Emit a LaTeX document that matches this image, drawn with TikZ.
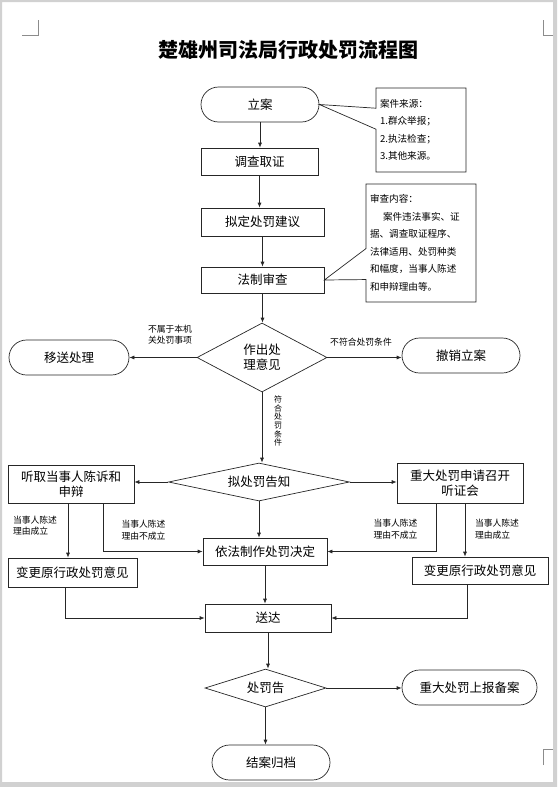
\documentclass[tikz,border=0pt]{standalone}
\usepackage{fontspec}
\setmainfont{Noto Sans CJK SC}
\usetikzlibrary{shapes.geometric, shapes.misc, shapes.callouts, arrows.meta}
\tikzset{
  terminal/.style={rounded rectangle, minimum width=118pt, minimum height=35pt, inner sep=0pt, draw=black!85, line width=0.7pt, font=\fontsize{12.5}{15}\selectfont},
  process/.style={rectangle, minimum width=124pt, minimum height=27pt, inner sep=2pt, align=center, draw=black!85, line width=0.7pt, font=\fontsize{12.5}{15}\selectfont},
  decision/.style={diamond, inner sep=0pt, align=center, draw=black!85, line width=0.7pt, font=\fontsize{12.5}{15}\selectfont},
  note/.style={rectangle callout, align=left, inner xsep=4pt, draw=black!85, line width=0.7pt, font=\fontsize{9.6}{17.5}\selectfont},
  small/.style={inner sep=0pt, align=left, font=\fontsize{8.8}{11.5}\selectfont},
  arrow/.style={line width=0.7pt, draw=black!85, -{Latex[length=5pt,width=4pt]}}
}

\begin{document}
\begin{tikzpicture}[x=1pt, y=-1pt]
    \useasboundingbox (0,0) rectangle (557,787);

    % 1. Marco de la pagina y marcas de esquina
    \fill[black!18, even odd rule] (0,0) rectangle (557,787) (2,2) rectangle (553,782);
    \draw[black!45, line width=0.6pt] (22,35) -- (38,35) -- (38,20);
    \draw[black!45, line width=0.6pt] (543,20) -- (543,35) -- (553,35);
    \draw[black!45, line width=0.6pt] (543,765) -- (543,749) -- (553,749);

    % 2. Titulo
    \node[font=\fontsize{20}{24}\selectfont\bfseries] (title) at (288,50) {楚雄州司法局行政处罚流程图};

    % 3. Columna central
    \node[terminal] (la) at (260,104.5) {立案};
    \node[process, minimum width=117pt] (dc) at (259.5,161.5) {调查取证};
    \node[process, minimum width=123pt, minimum height=28pt] (nd) at (262.5,222) {拟定处罚建议};
    \node[process, minimum width=123pt, minimum height=26pt] (fz) at (262.5,280) {法制审查};
    \node[decision, aspect=1.9, minimum width=130pt, minimum height=69pt] (zc) at (262,357.5) {作出处\\理意见};
    \node[decision, aspect=4.8, minimum width=181pt, minimum height=38pt] (ng) at (259,482) {拟处罚告知};
    \node[process] (jd) at (265,551.5) {依法制作处罚决定};
    \node[process, minimum width=126pt, minimum height=28pt] (sd) at (268,618) {送达};
    \node[decision, aspect=3.2, minimum width=121pt, minimum height=38pt] (cg) at (265.5,688) {处罚告};
    \node[terminal] (ja) at (271,762.5) {结案归档};

    % 4. Ramas laterales
    \node[terminal, minimum width=120pt] (ys) at (69,357.5) {移送处理};
    \node[terminal] (cx) at (461,355.5) {撤销立案};
    \node[process, minimum width=126pt, minimum height=38pt] (tq) at (71,484) {听取当事人陈诉和\\申辩};
    \node[process, minimum width=126pt, minimum height=40pt] (zd) at (460,483) {重大处罚申请召开\\听证会};
    \node[process, minimum width=129pt, minimum height=29pt] (bgl) at (72.5,572.5) {变更原行政处罚意见};
    \node[process, minimum width=136pt] (bgr) at (480,570.5) {变更原行政处罚意见};
    \node[terminal, minimum width=135pt] (bb) at (469.5,687.5) {重大处罚上报备案};

    % 5. Notas
    \node[note, callout absolute pointer={(la.east)}, callout pointer width=21pt, minimum width=90pt, minimum height=84pt, text width=82pt] (src) at (421,130)
        {案件来源：\\1.群众举报；\\2.执法检查；\\3.其他来源。};
    \node[note, callout absolute pointer={(fz.east)}, callout pointer width=31pt, minimum width=110pt, minimum height=118pt, text width=102pt] (rev) at (421,243)
        {审查内容：\\\hspace*{13pt}案件违法事实、证\\据、调查取证程序、\\法律适用、处罚种类\\和幅度，当事人陈述\\和申辩理由等。};

    % 6. Etiquetas
    \node[small] (l1) at (170,334.5) {不属于本机\\关处罚事项};
    \node[small] (l2) at (361,342) {不符合处罚条件};
    \node[small, align=center, font=\fontsize{8}{8.7}\selectfont] (l3) at (278,421) {符\\合\\处\\罚\\条\\件};
    \foreach \i/\x/\y/\t in {1/35/525.5/理由成立, 2/143.5/530/理由不成立, 3/395.5/529/理由不成立, 4/497/529/理由成立} {
        \node[small] (r\i) at (\x,\y) {当事人陈述\\\t};
    }

    % 7. Conexiones
    \draw[arrow] (la.south) -- (la.south |- dc.north);
    \draw[arrow] (dc.south) -- (dc.south |- nd.north);
    \draw[arrow] (nd.south) -- (nd.south |- fz.north);
    \draw[arrow] (fz.south) -- (fz.south |- zc.north);
    \draw[arrow] (zc.west) -- (zc.west -| ys.east);
    \draw[arrow] (zc.east) -- (zc.east -| cx.west);
    \draw[arrow] (zc.south) -- (zc.south |- ng.north);
    \draw[arrow] (ng.west) -- (ng.west -| tq.east);
    \draw[arrow] (ng.east) -- (ng.east -| zd.west);
    \draw[arrow] (ng.south) -- (ng.south |- jd.north);
    \draw[arrow] ([xshift=-3pt]tq.south) -- ([xshift=-3pt]tq.south |- bgl.north);
    \draw[arrow] ([xshift=32pt]tq.south) |- (jd.west);
    \draw[arrow] ([xshift=-24pt]zd.south) |- (jd.east);
    \draw[arrow] ([xshift=5pt]zd.south) -- ([xshift=5pt]zd.south |- bgr.north);
    \draw[arrow] ([xshift=-7.5pt]bgl.south) |- (sd.west);
    \draw[arrow] ([xshift=-13pt]bgr.south) |- (sd.east);
    \draw[arrow] (jd.south) -- (jd.south |- sd.north);
    \draw[arrow] (sd.south) -- (sd.south |- cg.north);
    \draw[arrow] (cg.east) -- (cg.east -| bb.west);
    \draw[arrow] (cg.south) -- (cg.south |- ja.north);

\end{tikzpicture}
\end{document}
